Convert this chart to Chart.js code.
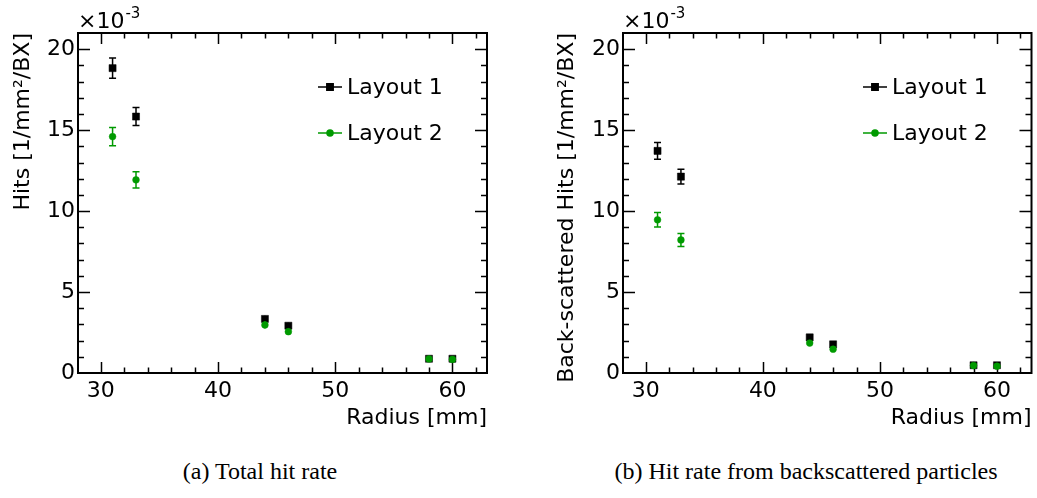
<!DOCTYPE html>
<html>
<head>
<meta charset="utf-8">
<script src="https://cdn.jsdelivr.net/npm/chart.js@4.4.1/dist/chart.umd.min.js"></script>
<style>
  html, body { margin: 0; padding: 0; background: #fff; }
  #wrap { position: relative; width: 1037px; height: 498px; overflow: hidden; background: #fff; }
  #c1 { position: absolute; left: 0; top: 0; }
  #c2 { position: absolute; left: 520px; top: 0; }
  .cap { position: absolute; top: 458px; font-family: "Liberation Serif", "Times New Roman", serif;
         font-size: 24px; color: #000; white-space: nowrap; transform: translateX(-50%); }
</style>
</head>
<body>
<div id="wrap">
  <canvas id="c1" width="520" height="440"></canvas>
  <canvas id="c2" width="517" height="440"></canvas>
  <div class="cap" style="left:260px">(a) Total hit rate</div>
  <div class="cap" style="left:806px">(b) Hit rate from backscattered particles</div>
</div>
<script>
// Layer radii [mm]
const radius = [31, 33, 44, 46, 58, 60];

// Total hit rate [1e-3 hits / mm^2 / BX]
const totalLayout1    = [18.83, 15.84, 3.34, 2.92, 0.88, 0.88];
const totalLayout1Err = [0.62, 0.56, 0.20, 0.18, 0.08, 0.08];
const totalLayout2    = [14.60, 11.93, 2.97, 2.55, 0.87, 0.84];
const totalLayout2Err = [0.56, 0.50, 0.22, 0.20, 0.08, 0.08];

// Hit rate from backscattered particles [1e-3 hits / mm^2 / BX]
const backLayout1    = [13.72, 12.13, 2.20, 1.77, 0.48, 0.48];
const backLayout1Err = [0.52, 0.46, 0.15, 0.13, 0.05, 0.05];
const backLayout2    = [9.46, 8.22, 1.85, 1.47, 0.46, 0.42];
const backLayout2Err = [0.45, 0.40, 0.12, 0.10, 0.05, 0.05];

// Axis tick labels
const xTickValues = [30, 40, 50, 60];
const yTickValues = [0, 5, 10, 15, 20];

const seriesNames = ['Layout 1', 'Layout 2'];
const seriesColors = ['#000000', '#009a00'];

const FONT = 'DejaVu Sans';
const BLACK = '#000';

function makeDataset(i, values, errors) {
  return {
    label: seriesNames[i],
    data: radius.map((r, k) => ({ x: r, y: values[k] })),
    errors: errors,
    showLine: false,
    pointStyle: i === 0 ? 'rect' : 'circle',
    pointRadius: i === 0 ? 5 : 3.4,
    pointHoverRadius: i === 0 ? 5 : 3.4,
    pointBackgroundColor: seriesColors[i],
    pointBorderColor: seriesColors[i],
    pointBorderWidth: 0.5,
    borderColor: seriesColors[i],
    backgroundColor: seriesColors[i],
    order: i === 0 ? 1 : 0
  };
}

// Frame with inward ticks on all four sides, drawn from the chart's scales
const frameTicks = {
  id: 'frameTicks',
  beforeDatasetsDraw(chart) {
    const { ctx, chartArea: a, scales: { x, y } } = chart;
    ctx.save();
    ctx.strokeStyle = BLACK;
    ctx.lineWidth = 1.5;
    ctx.beginPath();
    // x ticks: major every 10, minor every 2
    for (let v = Math.ceil(x.min / 2) * 2; v <= x.max; v += 2) {
      const px = Math.round(x.getPixelForValue(v)) + 0.5;
      if (px <= a.left + 1 || px >= a.right - 1) continue;
      const len = v % 10 === 0 ? 11 : 5.5;
      ctx.moveTo(px, a.bottom); ctx.lineTo(px, a.bottom - len);
      ctx.moveTo(px, a.top); ctx.lineTo(px, a.top + len);
    }
    // y ticks: major every 5, minor every 1
    for (let v = Math.ceil(y.min); v <= y.max; v += 1) {
      const py = Math.round(y.getPixelForValue(v)) + 0.5;
      if (py <= a.top + 1 || py >= a.bottom - 1) continue;
      const len = v % 5 === 0 ? 12 : 6;
      ctx.moveTo(a.left, py); ctx.lineTo(a.left + len, py);
      ctx.moveTo(a.right, py); ctx.lineTo(a.right - len, py);
    }
    ctx.stroke();
    ctx.lineWidth = 2;
    ctx.strokeRect(a.left, a.top, a.right - a.left, a.bottom - a.top);

    // exponent of the y axis
    ctx.fillStyle = BLACK;
    ctx.textBaseline = 'alphabetic';
    ctx.textAlign = 'left';
    ctx.font = '22px "' + FONT + '"';
    ctx.fillText('\u00d710', a.left, 28);
    const w = ctx.measureText('\u00d710').width;
    ctx.font = '15px "' + FONT + '"';
    ctx.fillText('-3', a.left + w + 1, 18);
    ctx.restore();
  },
  // error bars with end caps under each series' markers
  beforeDatasetDraw(chart, args) {
    const { ctx, scales: { x, y } } = chart;
    const ds = chart.data.datasets[args.index];
    ctx.save();
    ctx.strokeStyle = ds.borderColor;
    ctx.lineWidth = 1.5;
    ctx.beginPath();
    ds.data.forEach((p, k) => {
      const e = ds.errors[k];
      const px = x.getPixelForValue(p.x);
      const y1 = y.getPixelForValue(p.y - e);
      const y2 = y.getPixelForValue(p.y + e);
      ctx.moveTo(px, y1); ctx.lineTo(px, y2);
      if (y1 - y2 > 8) {
        ctx.moveTo(px - 3.5, y1); ctx.lineTo(px + 3.5, y1);
        ctx.moveTo(px - 3.5, y2); ctx.lineTo(px + 3.5, y2);
      }
    });
    ctx.stroke();
    ctx.restore();
  },
  // legend box in the upper right of the frame
  afterDatasetsDraw(chart) {
    const { ctx, chartArea: a } = chart;
    ctx.save();
    chart.data.datasets.forEach((ds, i) => {
      const yy = a.top + 54 + i * 46;
      const x0 = a.left + 240;
      ctx.strokeStyle = ds.borderColor;
      ctx.fillStyle = ds.backgroundColor;
      ctx.lineWidth = 1.5;
      ctx.beginPath();
      ctx.moveTo(x0, yy); ctx.lineTo(x0 + 24, yy);
      ctx.stroke();
      Chart.helpers.drawPoint(ctx, {
        pointStyle: ds.pointStyle, radius: i === 0 ? 4.5 : 3,
        borderWidth: 0.5, rotation: 0
      }, x0 + 12, yy);
      ctx.fillStyle = BLACK;
      ctx.font = '22px "' + FONT + '"';
      ctx.textBaseline = 'middle';
      ctx.textAlign = 'left';
      ctx.fillText(ds.label, x0 + 29, yy + 1);
    });
    ctx.restore();
  }
};

function makeChart(canvasId, yTitle, l1, l1e, l2, l2e, pad, yWidth) {
  return new Chart(document.getElementById(canvasId), {
    type: 'scatter',
    data: { datasets: [makeDataset(0, l1, l1e), makeDataset(1, l2, l2e)] },
    options: {
      responsive: false,
      animation: false,
      devicePixelRatio: 1,
      layout: { padding: pad },
      plugins: { legend: { display: false }, tooltip: { enabled: false } },
      scales: {
        x: {
          type: 'linear', min: 28.05, max: 62.95,
          afterBuildTicks: s => { s.ticks = xTickValues.map(v => ({ value: v })); },
          afterFit: s => { s.height = 58; },
          grid: { display: false, drawTicks: false },
          border: { display: false },
          ticks: { font: { family: FONT, size: 22 }, color: BLACK, padding: 5, maxRotation: 0, autoSkip: false },
          title: { display: true, text: 'Radius [mm]', align: 'end', color: BLACK,
                   font: { family: FONT, size: 22 }, padding: { top: 0, bottom: 0 } }
        },
        y: {
          type: 'linear', min: 0, max: 21,
          afterBuildTicks: s => { s.ticks = yTickValues.map(v => ({ value: v })); },
          afterFit: s => { s.width = yWidth; },
          grid: { display: false, drawTicks: false },
          border: { display: false },
          ticks: { font: { family: FONT, size: 22 }, color: BLACK, padding: 3, autoSkip: false },
          title: { display: true, text: yTitle, align: 'end', color: BLACK,
                   font: { family: FONT, size: 22 }, padding: { top: 10, bottom: 0 } }
        }
      }
    },
    plugins: [frameTicks]
  });
}

makeChart('c1', 'Hits [1/mm\u00b2/BX]',
  totalLayout1, totalLayout1Err, totalLayout2, totalLayout2Err,
  { top: 33, left: 0, right: 33, bottom: 9 }, 78);

makeChart('c2', 'Back-scattered Hits [1/mm\u00b2/BX]',
  backLayout1, backLayout1Err, backLayout2, backLayout2Err,
  { top: 33, left: 24, right: 5, bottom: 9 }, 79);
</script>
</body>
</html>
